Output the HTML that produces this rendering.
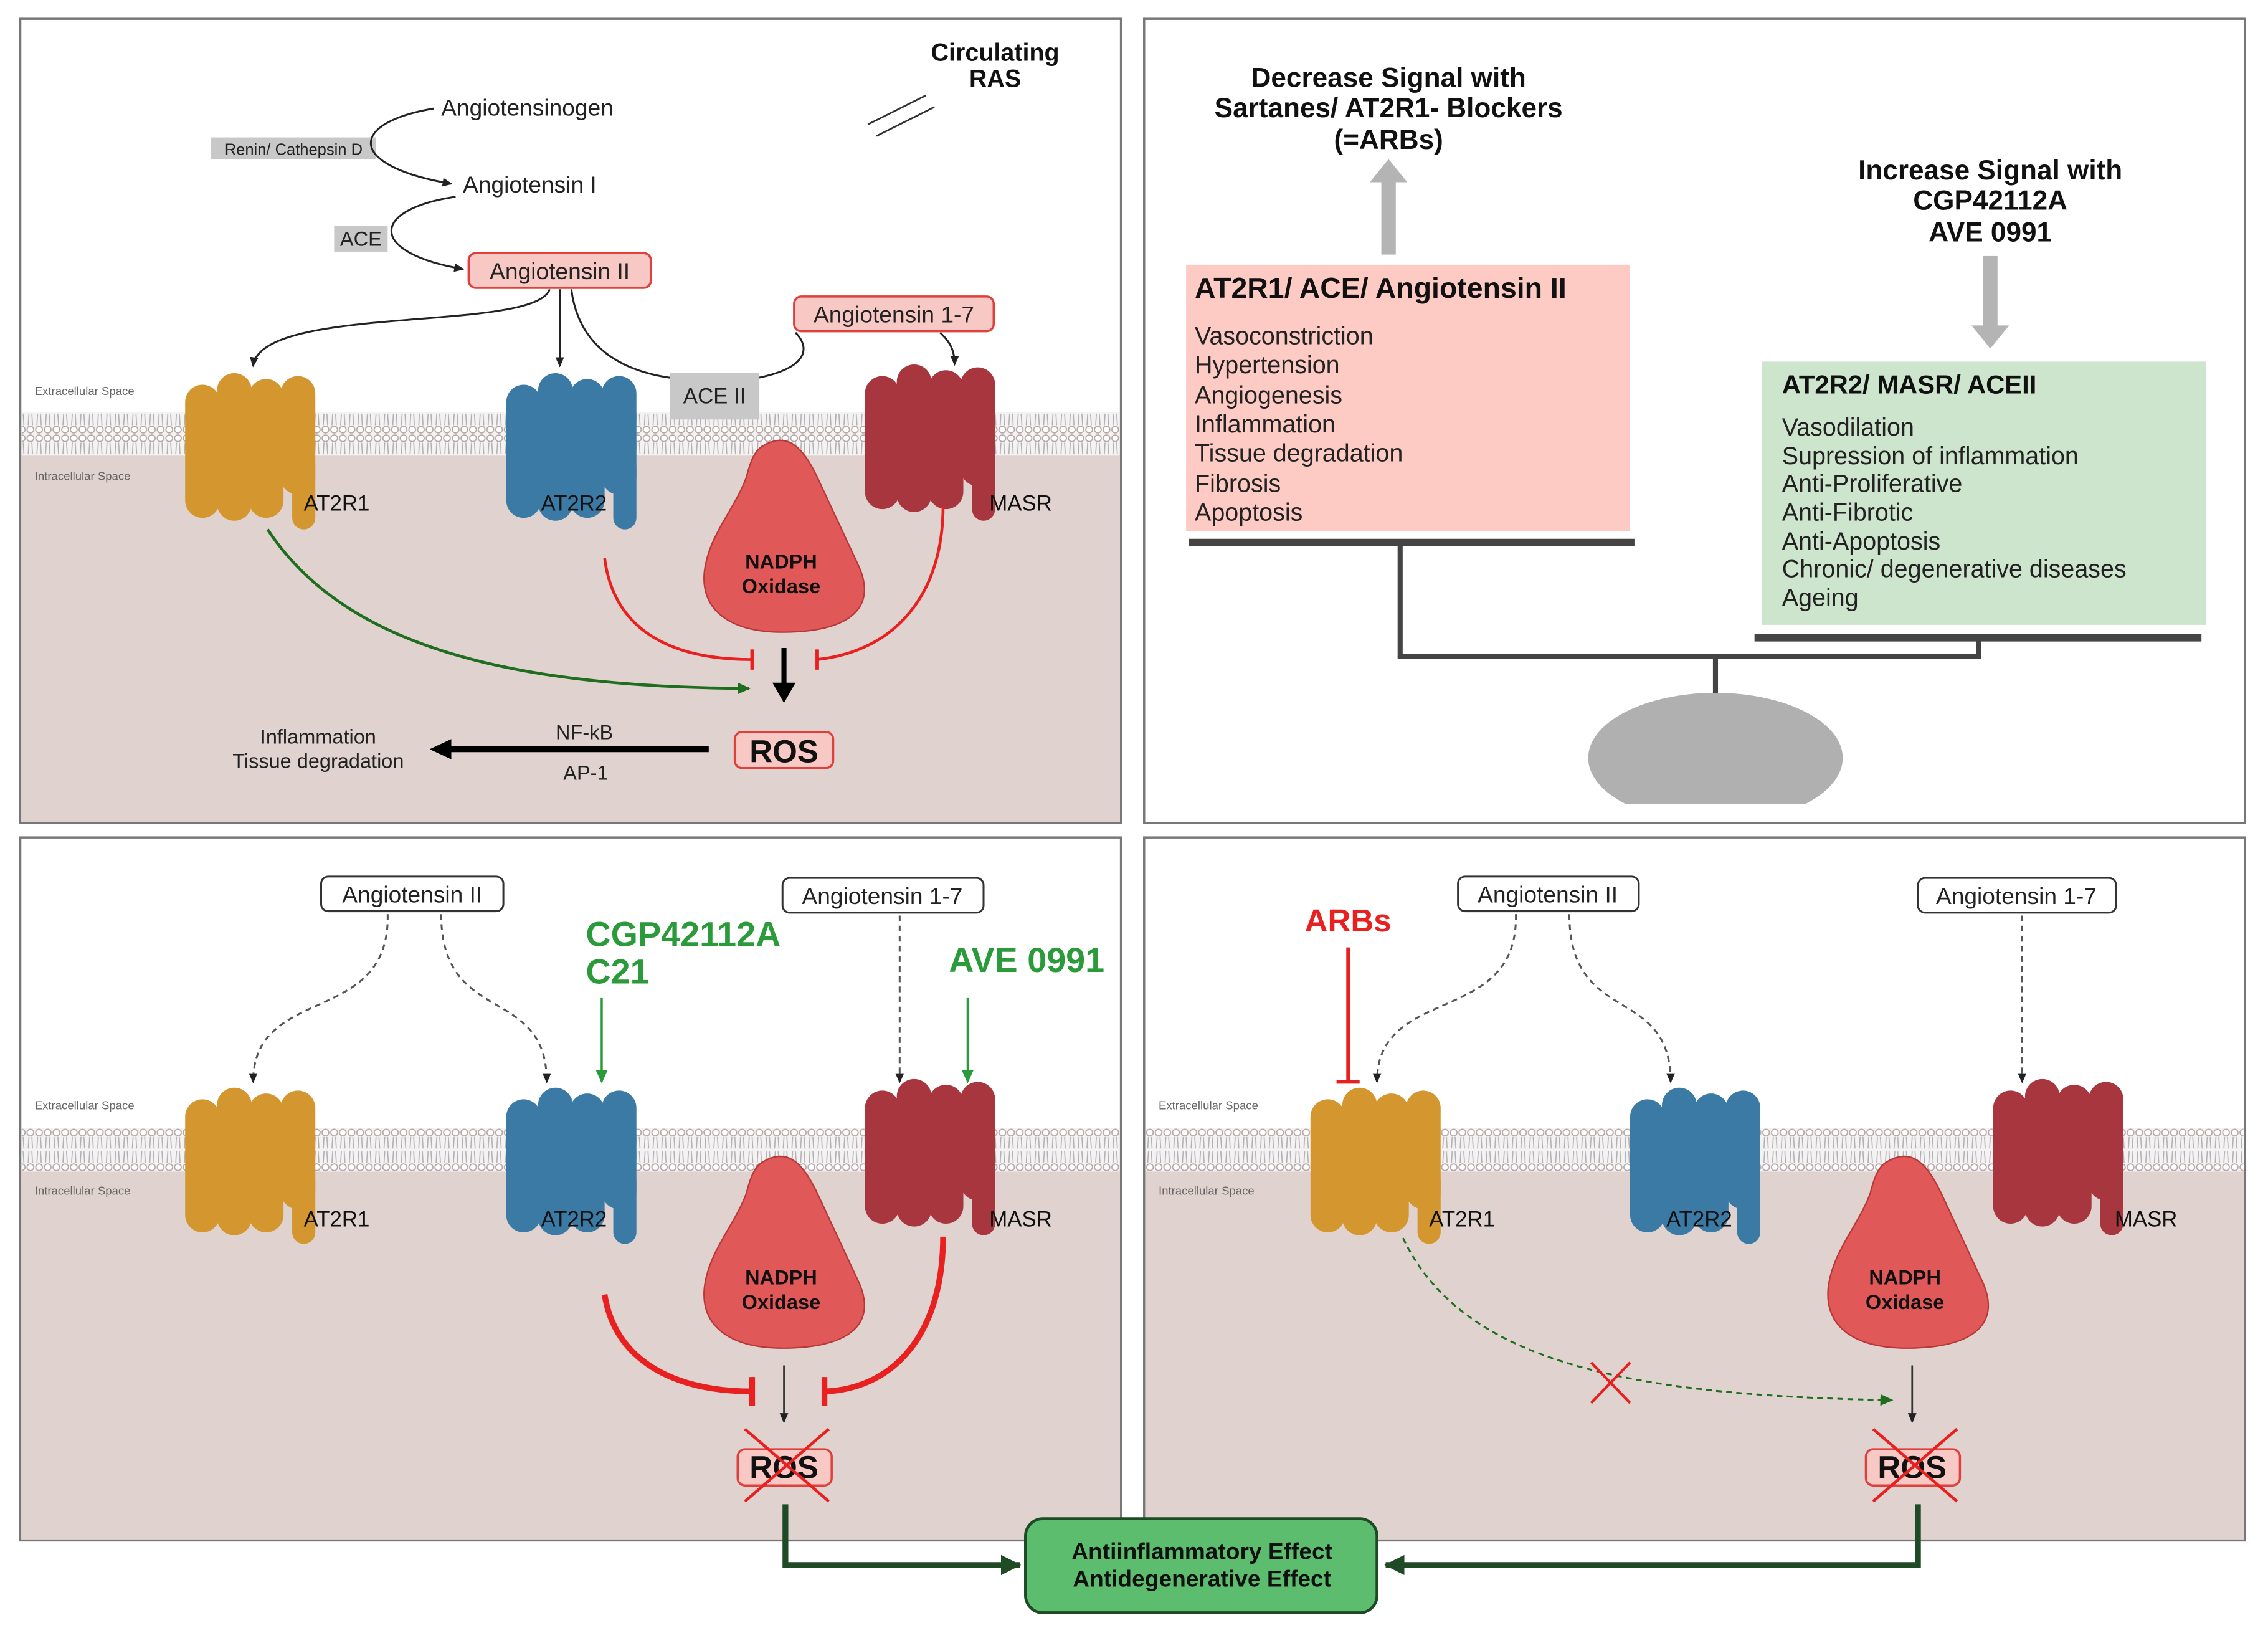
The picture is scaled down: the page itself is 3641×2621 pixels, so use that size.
<!DOCTYPE html>
<html><head><meta charset="utf-8"><style>
html,body{margin:0;padding:0;background:#fff;}
svg{display:block;}
text{font-family:"Liberation Sans",Arial,sans-serif;}
</style></head><body>
<svg width="3641" height="2621" viewBox="0 0 1568 1129" preserveAspectRatio="none" xmlns="http://www.w3.org/2000/svg">
<defs>
<pattern id="lip" width="6" height="30" patternUnits="userSpaceOnUse">
<rect width="6" height="30" fill="#f4f2f2"/>
<circle cx="3" cy="3" r="2.3" fill="#fff" stroke="#b8a8a8" stroke-width="0.8"/>
<circle cx="3" cy="27" r="2.3" fill="#fff" stroke="#b8a8a8" stroke-width="0.8"/>
<path d="M2,6 L1.5,14 M4,6 L4.5,14 M2,16 L1.5,24 M4,16 L4.5,24" stroke="#b0b0b0" stroke-width="0.7"/>
</pattern>
<clipPath id="domeclip"><rect x="1090" y="470" width="200" height="86"/></clipPath>
<g id="rec">
<rect x="0" y="8" width="24" height="92" rx="12"/>
<rect x="22" y="0" width="24" height="102" rx="12"/>
<rect x="44" y="4" width="24" height="96" rx="12"/>
<rect x="66" y="2" width="24" height="82" rx="12"/>
<rect x="74" y="56" width="16" height="52" rx="8"/>
</g>
<path id="nadph" d="M528,308 C545,298 556,310 566,332 L594,392 C606,420 588,436 545,437 C505,438 484,422 487,395 C490,370 508,352 516,330 C519,318 522,311 528,308 Z"/>
<marker id="ab" markerWidth="8" markerHeight="8" refX="6" refY="4" orient="auto" markerUnits="userSpaceOnUse"><path d="M0,1 L7,4 L0,7 Z" fill="#222"/></marker>
<marker id="ag" markerWidth="10" markerHeight="10" refX="8" refY="5" orient="auto" markerUnits="userSpaceOnUse"><path d="M0,1 L9,5 L0,9 Z" fill="#1f6e1f"/></marker>
<marker id="agd" markerWidth="16" markerHeight="16" refX="13" refY="8" orient="auto" markerUnits="userSpaceOnUse"><path d="M0,1 L14,8 L0,15 Z" fill="#1e4a25"/></marker>
<marker id="agg" markerWidth="10" markerHeight="10" refX="8" refY="5" orient="auto" markerUnits="userSpaceOnUse"><path d="M0,1 L9,5 L0,9 Z" fill="#2a9a3a"/></marker>
</defs>

<rect x="14" y="13" width="761" height="556" fill="#fff" stroke="#777" stroke-width="1.5"/>
<rect x="14.7" y="314" width="759.6" height="254.3" fill="#e0d2ce"/>
<rect x="15" y="285" width="759" height="30" fill="url(#lip)"/>
<rect x="791" y="13" width="761" height="556" fill="#fff" stroke="#777" stroke-width="1.5"/>
<rect x="14" y="579" width="761" height="486" fill="#fff" stroke="#777" stroke-width="1.5"/>
<rect x="14.7" y="809" width="759.6" height="255.3" fill="#e0d2ce"/>
<rect x="15" y="780" width="759" height="30" fill="url(#lip)"/>
<rect x="791" y="579" width="761" height="486" fill="#fff" stroke="#777" stroke-width="1.5"/>
<rect x="791.7" y="809" width="759.6" height="255.3" fill="#e0d2ce"/>
<rect x="792" y="780" width="759" height="30" fill="url(#lip)"/>

<text x="688" y="42" font-size="17" font-weight="bold" text-anchor="middle" fill="#111">Circulating</text>
<text x="688" y="60" font-size="17" font-weight="bold" text-anchor="middle" fill="#111">RAS</text>
<path d="M600,86 L640,66 M606,94 L646,74" stroke="#333" stroke-width="1.2"/>
<text x="305" y="80" font-size="16" fill="#222">Angiotensinogen</text>
<text x="320" y="133" font-size="16" fill="#222">Angiotensin I</text>
<rect x="146" y="95" width="114" height="15" fill="#c8c8c8"/>
<text x="203" y="107" font-size="11" text-anchor="middle" fill="#222">Renin/ Cathepsin D</text>
<rect x="231" y="156" width="37" height="18" fill="#c8c8c8"/>
<text x="249.5" y="170" font-size="14" text-anchor="middle" fill="#222">ACE</text>
<path d="M300,75 C240,85 240,115 312,127" fill="none" stroke="#222" stroke-width="1.3" marker-end="url(#ab)"/>
<path d="M315,136 C255,145 255,175 320,186" fill="none" stroke="#222" stroke-width="1.3" marker-end="url(#ab)"/>
<rect x="324" y="175" width="126" height="24" rx="5" fill="#f8c8c4" stroke="#e0403c" stroke-width="1.5"/>
<text x="387" y="193" font-size="16" text-anchor="middle" fill="#222">Angiotensin II</text>
<rect x="549" y="205" width="138" height="24" rx="5" fill="#f8c8c4" stroke="#e0403c" stroke-width="1.5"/>
<text x="618" y="223" font-size="16" text-anchor="middle" fill="#222">Angiotensin 1-7</text>
<path d="M380,200 C370,230 180,210 175,253" fill="none" stroke="#222" stroke-width="1.3" marker-end="url(#ab)"/>
<path d="M387,200 L387,253" fill="none" stroke="#222" stroke-width="1.3" marker-end="url(#ab)"/>
<path d="M395,200 C400,240 430,258 470,262" fill="none" stroke="#222" stroke-width="1.3"/>
<path d="M650,230 C655,235 660,240 660,252" fill="none" stroke="#222" stroke-width="1.3" marker-end="url(#ab)"/>
<path d="M520,262 C560,255 560,240 550,230" fill="none" stroke="#222" stroke-width="1.3"/>
<rect x="463" y="258" width="62" height="32" fill="#c8c8c8"/>
<text x="494" y="279" font-size="15" text-anchor="middle" fill="#222">ACE II</text>
<text x="24" y="273" font-size="8" fill="#666">Extracellular Space</text>
<text x="24" y="332" font-size="8" fill="#666">Intracellular Space</text>
<use href="#rec" x="128" y="258" fill="#d4962e"/>
<use href="#rec" x="350" y="258" fill="#3c7aa6"/>
<use href="#rec" x="598" y="252" fill="#a8363e"/>
<use href="#nadph" fill="#e05858" stroke="#b83838" stroke-width="1"/>
<text x="540" y="393" font-size="14" font-weight="bold" text-anchor="middle" fill="#111">NADPH</text>
<text x="540" y="410" font-size="14" font-weight="bold" text-anchor="middle" fill="#111">Oxidase</text>
<text x="210" y="353" font-size="15" fill="#111">AT2R1</text>
<text x="374" y="353" font-size="15" fill="#111">AT2R2</text>
<text x="684" y="353" font-size="15" fill="#111">MASR</text>
<path d="M185,366 C240,450 360,475 518,476" fill="none" stroke="#1f6e1f" stroke-width="2" marker-end="url(#ag)"/>
<path d="M418,386 C425,440 470,456 520,456" fill="none" stroke="#e82020" stroke-width="2"/>
<path d="M520,449 L520,463" stroke="#e82020" stroke-width="2.5"/>
<path d="M652,350 C652,410 620,450 565,456" fill="none" stroke="#e82020" stroke-width="2"/>
<path d="M565,449 L565,463" stroke="#e82020" stroke-width="2.5"/>
<path d="M542,448 L542,474" stroke="#000" stroke-width="3.5"/>
<path d="M534,472 L542,486 L550,472 Z" fill="#000"/>
<rect x="508" y="506" width="68" height="25" rx="5" fill="#f8c8c4" stroke="#e0403c" stroke-width="1.5"/>
<text x="542" y="527" font-size="22" font-weight="bold" text-anchor="middle" fill="#111">ROS</text>
<path d="M490,518 L310,518" stroke="#000" stroke-width="4"/>
<path d="M312,511 L297,518 L312,525 Z" fill="#000"/>
<text x="404" y="511" font-size="14" text-anchor="middle" fill="#222">NF-kB</text>
<text x="405" y="539" font-size="14" text-anchor="middle" fill="#222">AP-1</text>
<text x="220" y="514" font-size="14" text-anchor="middle" fill="#222">Inflammation</text>
<text x="220" y="531" font-size="14" text-anchor="middle" fill="#222">Tissue degradation</text>

<g font-size="19" font-weight="bold" text-anchor="middle" fill="#111">
<text x="960" y="60">Decrease Signal with</text>
<text x="960" y="81">Sartanes/ AT2R1- Blockers</text>
<text x="960" y="103">(=ARBs)</text>
<text x="1376" y="124">Increase Signal with</text>
<text x="1376" y="145">CGP42112A</text>
<text x="1376" y="167">AVE 0991</text>
</g>
<rect x="955" y="124" width="10" height="52" fill="#b4b4b4"/>
<path d="M947,126 L960,110 L973,126 Z" fill="#b4b4b4"/>
<rect x="1371" y="177" width="10" height="50" fill="#b4b4b4"/>
<path d="M1363,225 L1376,241 L1389,225 Z" fill="#b4b4b4"/>
<rect x="820" y="183" width="307" height="184" fill="#fdcbc4"/>
<text x="826" y="206" font-size="20" font-weight="bold" fill="#111">AT2R1/ ACE/ Angiotensin II</text>
<g font-size="17" fill="#222">
<text x="826" y="238">Vasoconstriction</text>
<text x="826" y="258">Hypertension</text>
<text x="826" y="279">Angiogenesis</text>
<text x="826" y="299">Inflammation</text>
<text x="826" y="319">Tissue degradation</text>
<text x="826" y="340">Fibrosis</text>
<text x="826" y="360">Apoptosis</text>
</g>
<rect x="1218" y="250" width="307" height="182" fill="#cde5cc"/>
<text x="1232" y="272" font-size="18" font-weight="bold" fill="#111">AT2R2/ MASR/ ACEII</text>
<g font-size="17" fill="#222">
<text x="1232" y="301">Vasodilation</text>
<text x="1232" y="321">Supression of inflammation</text>
<text x="1232" y="340">Anti-Proliferative</text>
<text x="1232" y="360">Anti-Fibrotic</text>
<text x="1232" y="380">Anti-Apoptosis</text>
<text x="1232" y="399">Chronic/ degenerative diseases</text>
<text x="1232" y="419">Ageing</text>
</g>
<path d="M822,375 L1130,375" stroke="#444" stroke-width="5"/>
<path d="M1213,441 L1522,441" stroke="#444" stroke-width="5"/>
<path d="M968,375 L968,454 L1368,454 L1368,441" fill="none" stroke="#444" stroke-width="3.5"/>
<path d="M1186,454 L1186,482" stroke="#444" stroke-width="3.5"/>
<ellipse cx="1186" cy="524" rx="88" ry="45" fill="#b0b0b0" clip-path="url(#domeclip)"/>

<text x="24" y="767" font-size="8" fill="#666">Extracellular Space</text>
<text x="24" y="826" font-size="8" fill="#666">Intracellular Space</text>
<rect x="222" y="606" width="126" height="24" rx="5" fill="#fff" stroke="#333" stroke-width="1.3"/>
<text x="285" y="624" font-size="16" text-anchor="middle" fill="#222">Angiotensin II</text>
<rect x="541" y="607" width="139" height="24" rx="5" fill="#fff" stroke="#333" stroke-width="1.3"/>
<text x="610" y="625" font-size="16" text-anchor="middle" fill="#222">Angiotensin 1-7</text>
<g fill="none" stroke="#555" stroke-width="1.3" stroke-dasharray="4,3">
<path d="M268,632 C270,710 175,680 175,748" marker-end="url(#ab)"/>
<path d="M305,632 C305,710 378,680 378,748" marker-end="url(#ab)"/>
<path d="M622,633 L622,748" marker-end="url(#ab)"/>
</g>
<text x="405" y="654" font-size="24" font-weight="bold" fill="#2a9a3a">CGP42112A</text>
<text x="405" y="680" font-size="24" font-weight="bold" fill="#2a9a3a">C21</text>
<text x="656" y="672" font-size="24" font-weight="bold" fill="#2a9a3a">AVE 0991</text>
<path d="M416,690 L416,748" stroke="#2a9a3a" stroke-width="1.5" marker-end="url(#agg)"/>
<path d="M669,690 L669,748" stroke="#2a9a3a" stroke-width="1.5" marker-end="url(#agg)"/>
<use href="#rec" x="128" y="752" fill="#d4962e"/>
<use href="#rec" x="350" y="752" fill="#3c7aa6"/>
<use href="#rec" x="598" y="746" fill="#a8363e"/>
<use href="#nadph" y="495" fill="#e05858" stroke="#b83838" stroke-width="1"/>
<text x="540" y="888" font-size="14" font-weight="bold" text-anchor="middle" fill="#111">NADPH</text>
<text x="540" y="905" font-size="14" font-weight="bold" text-anchor="middle" fill="#111">Oxidase</text>
<text x="210" y="848" font-size="15" fill="#111">AT2R1</text>
<text x="374" y="848" font-size="15" fill="#111">AT2R2</text>
<text x="684" y="848" font-size="15" fill="#111">MASR</text>
<path d="M418,895 C425,940 465,962 520,962" fill="none" stroke="#e82020" stroke-width="4"/>
<path d="M520,952 L520,972" stroke="#e82020" stroke-width="4"/>
<path d="M652,855 C652,920 620,960 570,962" fill="none" stroke="#e82020" stroke-width="4"/>
<path d="M570,952 L570,972" stroke="#e82020" stroke-width="4"/>
<path d="M542,944 L542,983" stroke="#333" stroke-width="1.2" marker-end="url(#ab)"/>
<rect x="510" y="1002" width="65" height="25" rx="5" fill="#f8c8c4" stroke="#e0403c" stroke-width="1.5"/>
<text x="542" y="1022" font-size="22" font-weight="bold" text-anchor="middle" fill="#111">ROS</text>
<path d="M515,988 L573,1038 M515,1038 L573,988" stroke="#e82020" stroke-width="2"/>

<text x="801" y="767" font-size="8" fill="#666">Extracellular Space</text>
<text x="801" y="826" font-size="8" fill="#666">Intracellular Space</text>
<rect x="1008" y="606" width="125" height="24" rx="5" fill="#fff" stroke="#333" stroke-width="1.3"/>
<text x="1070" y="624" font-size="16" text-anchor="middle" fill="#222">Angiotensin II</text>
<rect x="1326" y="607" width="137" height="24" rx="5" fill="#fff" stroke="#333" stroke-width="1.3"/>
<text x="1394" y="625" font-size="16" text-anchor="middle" fill="#222">Angiotensin 1-7</text>
<g fill="none" stroke="#555" stroke-width="1.3" stroke-dasharray="4,3">
<path d="M1048,632 C1050,710 952,680 952,748" marker-end="url(#ab)"/>
<path d="M1085,632 C1085,710 1155,680 1155,748" marker-end="url(#ab)"/>
<path d="M1398,633 L1398,748" marker-end="url(#ab)"/>
</g>
<text x="932" y="644" font-size="22" font-weight="bold" text-anchor="middle" fill="#e82020">ARBs</text>
<path d="M932,655 L932,748" stroke="#e82020" stroke-width="2.5"/>
<path d="M924,748 L940,748" stroke="#e82020" stroke-width="2.5"/>
<use href="#rec" x="906" y="752" fill="#d4962e"/>
<use href="#rec" x="1127" y="752" fill="#3c7aa6"/>
<use href="#rec" x="1378" y="746" fill="#a8363e"/>
<use href="#nadph" x="777" y="495" fill="#e05858" stroke="#b83838" stroke-width="1"/>
<text x="1317" y="888" font-size="14" font-weight="bold" text-anchor="middle" fill="#111">NADPH</text>
<text x="1317" y="905" font-size="14" font-weight="bold" text-anchor="middle" fill="#111">Oxidase</text>
<text x="988" y="848" font-size="15" fill="#111">AT2R1</text>
<text x="1152" y="848" font-size="15" fill="#111">AT2R2</text>
<text x="1462" y="848" font-size="15" fill="#111">MASR</text>
<path d="M970,856 C1010,940 1120,965 1308,968" fill="none" stroke="#1f6e1f" stroke-width="1.3" stroke-dasharray="4,3" marker-end="url(#ag)"/>
<path d="M1100,942 L1127,970 M1100,970 L1127,942" stroke="#e82020" stroke-width="1.8"/>
<path d="M1322,944 L1322,983" stroke="#333" stroke-width="1.2" marker-end="url(#ab)"/>
<rect x="1290" y="1002" width="65" height="25" rx="5" fill="#f8c8c4" stroke="#e0403c" stroke-width="1.5"/>
<text x="1322" y="1022" font-size="22" font-weight="bold" text-anchor="middle" fill="#111">ROS</text>
<path d="M1295,988 L1353,1038 M1295,1038 L1353,988" stroke="#e82020" stroke-width="2"/>

<path d="M543,1040 L543,1082 L705,1082" fill="none" stroke="#1e4a25" stroke-width="4" marker-end="url(#agd)"/>
<path d="M1326,1040 L1326,1082 L958,1082" fill="none" stroke="#1e4a25" stroke-width="4" marker-end="url(#agd)"/>
<rect x="709" y="1050" width="243" height="65" rx="12" fill="#5cbd6e" stroke="#1e4a25" stroke-width="2"/>
<text x="831" y="1078" font-size="16" font-weight="bold" text-anchor="middle" fill="#111">Antiinflammatory Effect</text>
<text x="831" y="1097" font-size="16" font-weight="bold" text-anchor="middle" fill="#111">Antidegenerative Effect</text>
</svg>
</body></html>
